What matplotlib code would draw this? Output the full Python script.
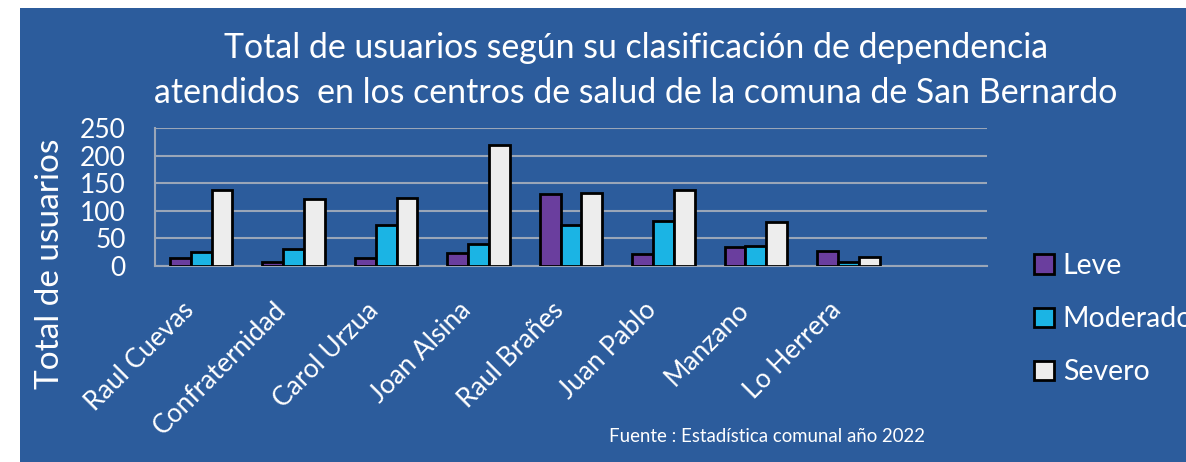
import matplotlib.pyplot as plt
import matplotlib.patches as mpatches
import matplotlib.transforms as mtransforms
import numpy as np

# ==========================================
# DATA
# ==========================================
centros = ["Raul Cuevas", "Confraternidad", "Carol Urzua", "Joan Alsina",
           "Raul Brañes", "Juan Pablo", "Manzano", "Lo Herrera", ""]
leve = [14, 7, 14, 23, 130, 21, 34, 28, 0]
moderado = [26, 30, 74, 40, 75, 82, 36, 8, 0]
severo = [137, 121, 124, 219, 133, 138, 79, 16, 0]
y_ticks = [0, 50, 100, 150, 200, 250]

BG = "#2C5C9C"
C_LEVE = "#6A3E9E"
C_MOD = "#1BB4E4"
C_SEV = "#EDEDED"
GRID = "#9AA6B8"

plt.rcParams["font.family"] = ["Lato", "DejaVu Sans"]

fig = plt.figure(figsize=(11.86, 4.62), dpi=100)
fig.patch.set_facecolor("white")
fig.patches.append(mpatches.Rectangle((20 / 1186, 0), 1166 / 1186, 454 / 462,
                                      transform=fig.transFigure,
                                      facecolor=BG, edgecolor="none", zorder=-10))

ax = fig.add_axes([155 / 1186, 1 - 266 / 462, 832 / 1186, 138 / 462])
ax.set_facecolor("none")

x = np.arange(len(centros))
w = 0.225
bars = []
sel = [i for i, c in enumerate(centros) if c]
for off, vals, col in [(-w, leve, C_LEVE), (0, moderado, C_MOD), (w, severo, C_SEV)]:
    bars.append(ax.bar(x[sel] + off, [vals[i] for i in sel], width=w, color=col,
                       edgecolor="black", linewidth=2, zorder=3))

ax.set_xlim(-0.5, len(centros) - 0.5)
ax.set_ylim(0, 250)
ax.set_yticks(y_ticks)
ax.set_yticklabels([str(v) for v in y_ticks], color="white", fontsize=19)
ax.yaxis.grid(True, color=GRID, linewidth=1.5, zorder=1)
ax.tick_params(axis="y", length=0, pad=21)
ax.tick_params(axis="x", length=0, pad=4)
ax.set_xticks(x)
ax.set_xticklabels(centros, rotation=45, ha="right", rotation_mode="anchor",
                   color="white", fontsize=19)
# shift the rotated labels down-left like the original chart
shift = mtransforms.ScaledTranslation(-20 / 100, -26 / 100, fig.dpi_scale_trans)
for lab in ax.get_xticklabels():
    lab.set_transform(lab.get_transform() + shift)

for side in ["top", "right"]:
    ax.spines[side].set_visible(False)
for side in ["left", "bottom"]:
    ax.spines[side].set_color(GRID)
    ax.spines[side].set_linewidth(1.5)

fig.text(50 / 1186, 1 - 264 / 462, "Total de usuarios", rotation=90,
         ha="center", va="center", color="white", fontsize=24)

fig.text(636 / 1186, 1 - 48 / 462,
         "Total de usuarios según su clasificación de dependencia",
         ha="center", va="center", color="white", fontsize=24.4)
fig.text(636 / 1186, 1 - 93 / 462,
         "atendidos  en los centros de salud de la comuna de San Bernardo",
         ha="center", va="center", color="white", fontsize=24.4)

fig.text(609 / 1186, 1 - 437 / 462, "Fuente : Estadística comunal año 2022",
         ha="left", va="center", color="white", fontsize=13.4)

leg = fig.legend(bars, ["Leve", "Moderado", "Severo"],
                 loc="upper left", bbox_to_anchor=(1023 / 1186, 1 - 242 / 462),
                 frameon=False, fontsize=20.5, labelcolor="white",
                 handlelength=0.7, handleheight=0.7, handletextpad=0.3,
                 labelspacing=0.95, borderaxespad=0)

fig.savefig("out.png", dpi=100, facecolor=fig.get_facecolor())
